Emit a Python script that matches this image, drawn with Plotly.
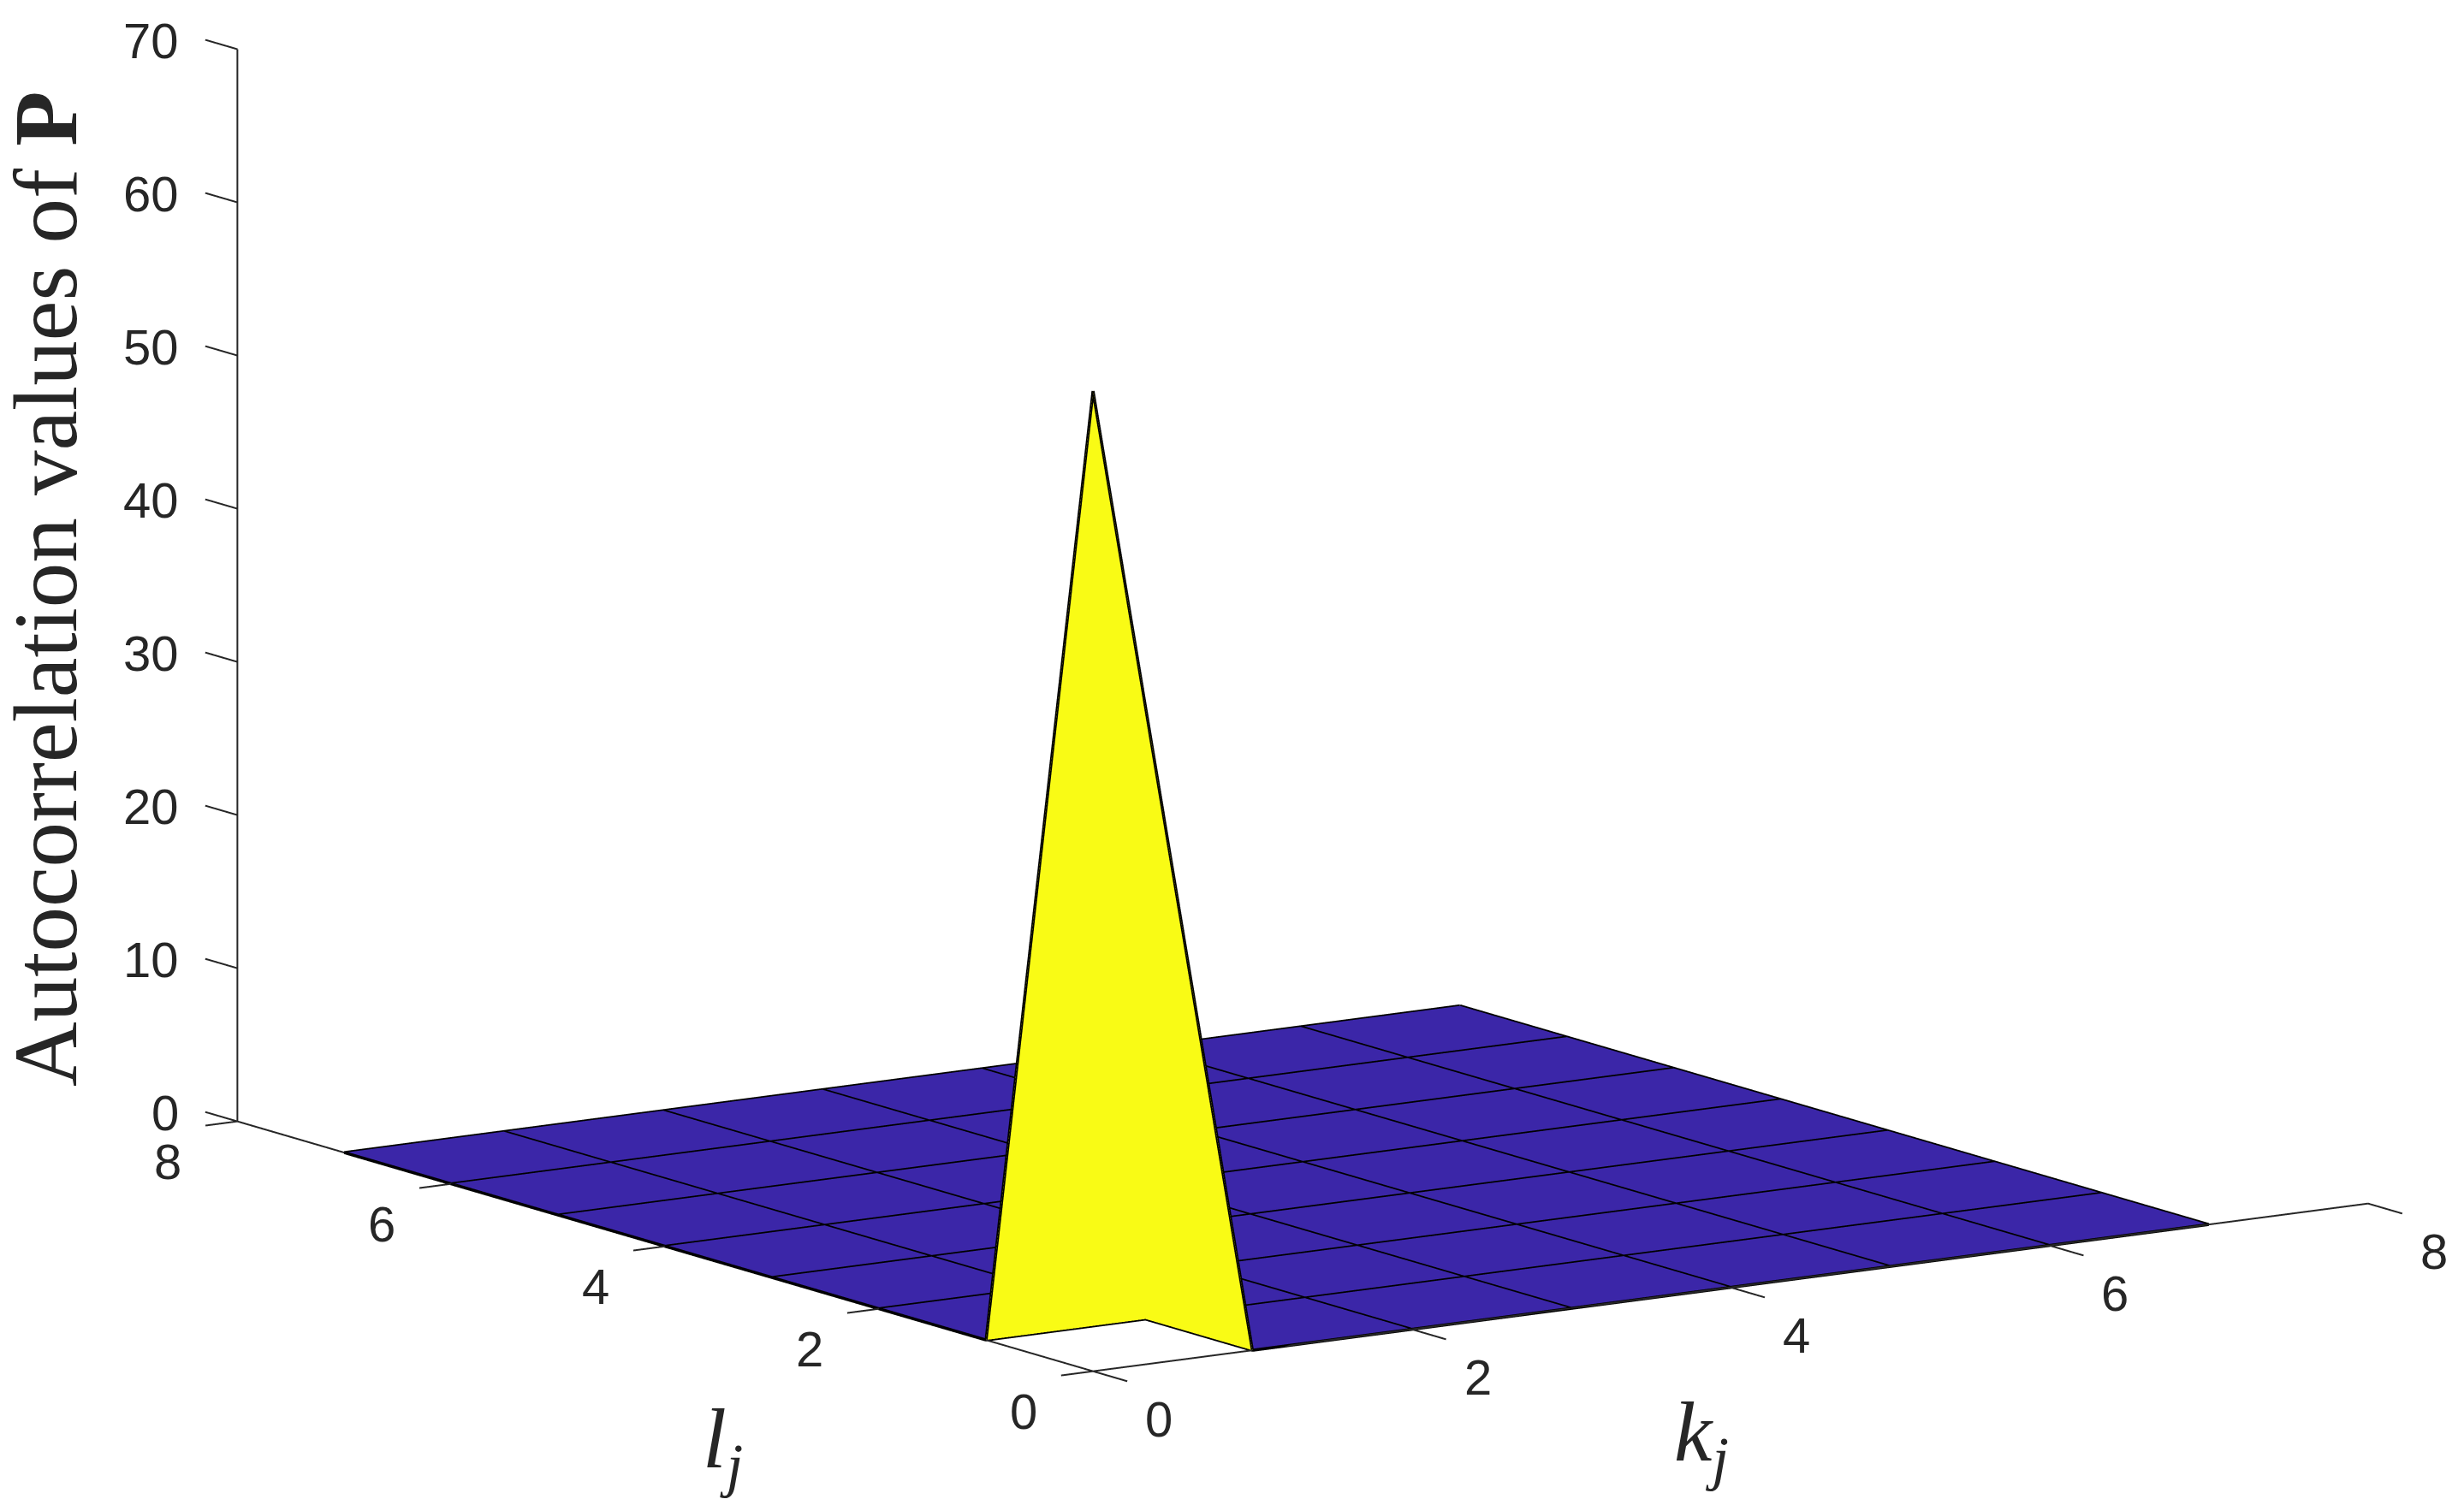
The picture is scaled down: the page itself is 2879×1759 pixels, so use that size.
import math
import plotly.graph_objects as go

# ---- data -------------------------------------------------------------
k_values = [0, 1, 2, 3, 4, 5, 6, 7]
l_values = [0, 1, 2, 3, 4, 5, 6, 7]
autocorr = [
    [64, 0, 0, 0, 0, 0, 0, 0],
    [0, 0, 0, 0, 0, 0, 0, 0],
    [0, 0, 0, 0, 0, 0, 0, 0],
    [0, 0, 0, 0, 0, 0, 0, 0],
    [0, 0, 0, 0, 0, 0, 0, 0],
    [0, 0, 0, 0, 0, 0, 0, 0],
    [0, 0, 0, 0, 0, 0, 0, 0],
    [0, 0, 0, 0, 0, 0, 0, 0],
]
k_ticks = [0, 2, 4, 6, 8]
l_ticks = [0, 2, 4, 6, 8]
z_ticks = [0, 10, 20, 30, 40, 50, 60, 70]

BLUE = "#3b26a8"
YELLOW = "#f9fb15"
AXIS = "#262626"

# ---- surface as flat-coloured cells ------------------------------------
n = len(k_values)
X, Y, Z, I, J, K_, colors = [], [], [], [], [], [], []
for li, l in enumerate(l_values):
    for ki, k in enumerate(k_values):
        X.append(k); Y.append(l); Z.append(autocorr[li][ki])
idx = lambda ki, li: li * n + ki
for li in range(n - 1):
    for ki in range(n - 1):
        c = YELLOW if autocorr[li][ki] > 0 else BLUE
        a, b, d, e = idx(ki, li), idx(ki + 1, li), idx(ki + 1, li + 1), idx(ki, li + 1)
        I += [a, a]; J += [b, d]; K_ += [d, e]; colors += [c, c]

mesh = go.Mesh3d(x=X, y=Y, z=Z, i=I, j=J, k=K_, facecolor=colors, flatshading=True,
                 lighting=dict(ambient=1, diffuse=0, specular=0, roughness=1, fresnel=0),
                 hoverinfo="skip", showscale=False)

lx, ly, lz = [], [], []
for li in range(n):
    for ki in range(n):
        lx.append(k_values[ki]); ly.append(l_values[li]); lz.append(autocorr[li][ki])
    lx.append(None); ly.append(None); lz.append(None)
for ki in range(n):
    for li in range(n):
        lx.append(k_values[ki]); ly.append(l_values[li]); lz.append(autocorr[li][ki])
    lx.append(None); ly.append(None); lz.append(None)
grid = go.Scatter3d(x=lx, y=ly, z=lz, mode="lines", line=dict(color="#000000", width=7),
                    hoverinfo="skip", showlegend=False)

# ---- axis lines and ticks, drawn through the scene's own scales ---------
K_TICK_LEN, L_TICK_LEN, Z_TICK_LEN = 0.32, 0.2, 0.3
ax, ay, az = [], [], []
def seg(p, q):
    ax.extend([p[0], q[0], None]); ay.extend([p[1], q[1], None]); az.extend([p[2], q[2], None])
seg((k_ticks[0], 0, 0), (k_ticks[-1], 0, 0))
seg((0, l_ticks[0], 0), (0, l_ticks[-1], 0))
seg((0, l_ticks[-1], z_ticks[0]), (0, l_ticks[-1], z_ticks[-1]))
for v in k_ticks:
    seg((v, 0, 0), (v, -K_TICK_LEN, 0))
for v in l_ticks:
    seg((0, v, 0), (-L_TICK_LEN, v, 0))
for v in z_ticks:
    seg((0, l_ticks[-1], v), (0, l_ticks[-1] + Z_TICK_LEN, v))
axes_lines = go.Scatter3d(x=ax, y=ay, z=az, mode="lines", line=dict(color=AXIS, width=4),
                          hoverinfo="skip", showlegend=False)

# ---- camera -------------------------------------------------------------
az_a, az_b = 0.557, 0.830
el = math.radians(11.3)
dist = 3.0
PX = 880.0
dx_px, dy_px = 74.7, 155.5
right = (az_b, -az_a, 0.0)
up = (math.sin(el) * az_a, math.sin(el) * az_b, math.cos(el))
center = [-(dx_px * right[i] + dy_px * up[i]) / PX for i in range(3)]
direction = (-az_a * math.cos(el), -az_b * math.cos(el), math.sin(el))
eye = [center[i] + dist * direction[i] for i in range(3)]

def axis(rng):
    return dict(range=rng, autorange=False, visible=False, showspikes=False)

TICK = dict(showarrow=False, font=dict(family="Liberation Sans", size=58, color=AXIS),
            yanchor="middle")
tick_notes = []
for v in z_ticks:
    tick_notes.append(dict(x=0, y=8, z=v, text=str(v), xanchor="right", xshift=-66, yshift=10, **TICK))
for v in l_ticks:
    tick_notes.append(dict(x=0, y=v, z=0, text=str(v), xanchor="center", xshift=-81, yshift=-47, **TICK))
for v in k_ticks:
    tick_notes.append(dict(x=v, y=0, z=0, text=str(v), xanchor="center", xshift=77, yshift=-56, **TICK))

fig = go.Figure([mesh, grid, axes_lines])
fig.update_layout(
    width=2879, height=1759, margin=dict(l=0, r=0, t=0, b=0), paper_bgcolor="white",
    showlegend=False,
    scene=dict(
        domain=dict(x=[0, 1], y=[0, 1]),
        xaxis=axis([-0.4, 8.4]), yaxis=axis([-0.4, 8.4]), zaxis=axis([0, 70]),
        aspectmode="manual", aspectratio=dict(x=2.244, y=2.244, z=1.453),
        camera=dict(projection=dict(type="orthographic"),
                    up=dict(x=0, y=0, z=1),
                    center=dict(x=center[0], y=center[1], z=center[2]),
                    eye=dict(x=eye[0], y=eye[1], z=eye[2])),
        annotations=tick_notes,
    ),
    annotations=[
        dict(text="Autocorrelation values of <b>P</b>", xref="paper", yref="paper",
             x=45 / 2879, y=1 - 681 / 1759, textangle=-90, showarrow=False,
             xanchor="center", yanchor="middle",
             font=dict(family="Liberation Serif", size=105, color="#262626")),
        dict(text="<i>l<sub>j</sub></i>", xref="paper", yref="paper",
             x=836 / 2879, y=1 - 1680 / 1759, showarrow=False,
             xanchor="center", yanchor="middle",
             font=dict(family="Liberation Serif", size=100, color="#262626")),
        dict(text="<i>k<sub>j</sub></i>", xref="paper", yref="paper",
             x=1980 / 2879, y=1 - 1672 / 1759, showarrow=False,
             xanchor="center", yanchor="middle",
             font=dict(family="Liberation Serif", size=100, color="#262626")),
    ],
)
fig.write_html("out.html")
